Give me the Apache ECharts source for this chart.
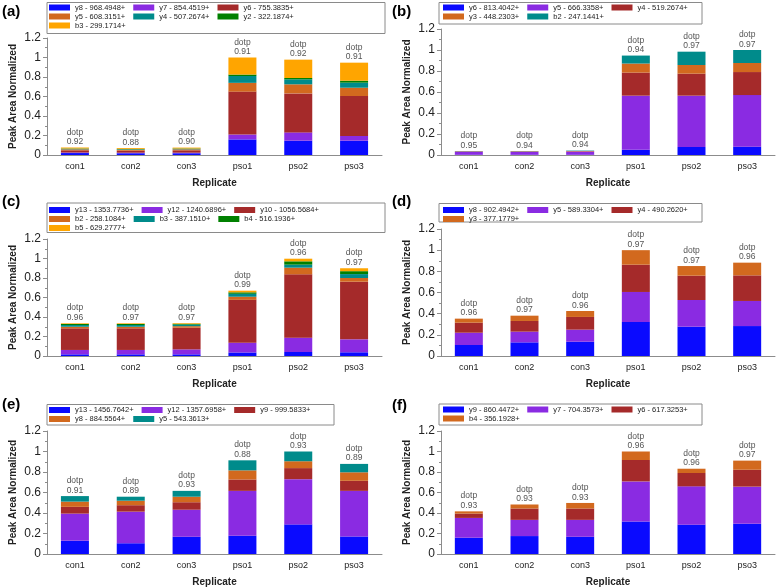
<!DOCTYPE html>
<html><head><meta charset="utf-8">
<script src="https://cdn.jsdelivr.net/npm/echarts@6/dist/echarts.min.js"></script>
<style>html,body{margin:0;padding:0;background:#fff}#c{width:778px;height:588px}</style>
</head><body><div id="c"></div>
<script>
const categories = ['con1','con2','con3','pso1','pso2','pso3'];
const yTicks = [0, 0.2, 0.4, 0.6, 0.8, 1, 1.2];
const palette = ['#0a0aff','#8a2be2','#a52a2a','#d2691e','#008b8b','#008000','#ffa500'];

// Panel (a)
const aNames = ['y8 - 968.4948+','y7 - 854.4519+','y6 - 755.3835+','y5 - 608.3151+','y4 - 507.2674+','y2 - 322.1874+','b3 - 299.1714+'];
const a_y8 = [0.020, 0.018, 0.018, 0.160, 0.147, 0.147];
const a_y7 = [0.006, 0.006, 0.006, 0.050, 0.085, 0.048];
const a_y6 = [0.022, 0.020, 0.024, 0.440, 0.400, 0.410];
const a_y5 = [0.010, 0.010, 0.010, 0.090, 0.093, 0.085];
const a_y4 = [0.005, 0.005, 0.005, 0.070, 0.051, 0.052];
const a_y2 = [0.004, 0.004, 0.004, 0.015, 0.014, 0.020];
const a_b3 = [0.010, 0.009, 0.009, 0.175, 0.188, 0.185];
const aDotp = ['0.92','0.88','0.90','0.91','0.92','0.91'];

// Panel (b)
const bNames = ['y6 - 813.4042+','y5 - 666.3358+','y4 - 519.2674+','y3 - 448.2303+','b2 - 247.1441+'];
const b_y6 = [0.002, 0.002, 0.002, 0.050, 0.076, 0.079];
const b_y5 = [0.028, 0.027, 0.030, 0.515, 0.489, 0.492];
const b_y4 = [0.004, 0.004, 0.004, 0.220, 0.210, 0.219];
const b_y3 = [0.001, 0.002, 0.002, 0.086, 0.082, 0.086];
const b_b2 = [0.002, 0.002, 0.004, 0.076, 0.127, 0.124];
const bDotp = ['0.95','0.94','0.94','0.94','0.97','0.97'];

// Panel (c)
const cNames = ['y13 - 1353.7736+','y12 - 1240.6896+','y10 - 1056.5684+','b2 - 258.1084+','b3 - 387.1510+','b4 - 516.1936+','b5 - 629.2777+'];
const c_y13 = [0.017, 0.017, 0.017, 0.036, 0.041, 0.038];
const c_y12 = [0.045, 0.045, 0.051, 0.100, 0.147, 0.133];
const c_y10 = [0.222, 0.222, 0.222, 0.440, 0.650, 0.591];
const c_b2 = [0.016, 0.016, 0.016, 0.032, 0.068, 0.038];
const c_b3 = [0.018, 0.018, 0.016, 0.030, 0.031, 0.040];
const c_b4 = [0.010, 0.010, 0.008, 0.015, 0.034, 0.030];
const c_b5 = [0.007, 0.007, 0.007, 0.017, 0.027, 0.030];
const cDotp = ['0.96','0.97','0.97','0.99','0.96','0.97'];

// Panel (d)
const dNames = ['y8 - 902.4942+','y5 - 589.3304+','y4 - 490.2620+','y3 - 377.1779+'];
const d_y8 = [0.104, 0.129, 0.135, 0.321, 0.277, 0.283];
const d_y5 = [0.116, 0.101, 0.114, 0.284, 0.252, 0.237];
const d_y4 = [0.095, 0.101, 0.120, 0.258, 0.230, 0.242];
const d_y3 = [0.038, 0.050, 0.056, 0.137, 0.091, 0.120];
const dDotp = ['0.96','0.97','0.96','0.97','0.97','0.96'];

// Panel (e)
const eNames = ['y13 - 1456.7642+','y12 - 1357.6958+','y9 - 999.5833+','y8 - 884.5564+','y5 - 543.3613+'];
const e_y13 = [0.130, 0.105, 0.168, 0.178, 0.289, 0.171];
const e_y12 = [0.264, 0.308, 0.264, 0.438, 0.441, 0.445];
const e_y9 = [0.066, 0.063, 0.073, 0.111, 0.108, 0.098];
const e_y8 = [0.051, 0.044, 0.054, 0.089, 0.067, 0.083];
const e_y5 = [0.054, 0.039, 0.057, 0.098, 0.095, 0.082];
const eDotp = ['0.91','0.89','0.93','0.88','0.93','0.89'];

// Panel (f)
const fNames = ['y9 - 860.4472+','y7 - 704.3573+','y6 - 617.3253+','b4 - 356.1928+'];
const f_y9 = [0.159, 0.175, 0.168, 0.317, 0.286, 0.295];
const f_y7 = [0.193, 0.158, 0.165, 0.391, 0.374, 0.362];
const f_y6 = [0.042, 0.111, 0.111, 0.209, 0.130, 0.165];
const f_b4 = [0.022, 0.039, 0.054, 0.083, 0.042, 0.089];
const fDotp = ['0.93','0.93','0.93','0.96','0.96','0.97'];

const panels = [
  {tag:'(a)', names:aNames, vals:[a_y8,a_y7,a_y6,a_y5,a_y4,a_y2,a_b3], dotp:aDotp,
   grid:{left:47,top:38,width:335,height:117}, title:{x:2,y:12},
   legend:{left:49,top:3}, box:{x:47,y:2.5,w:338,h:31}},
  {tag:'(b)', names:bNames, vals:[b_y6,b_y5,b_y4,b_y3,b_b2], dotp:bDotp,
   grid:{left:441,top:29,width:334,height:126}, title:{x:392,y:12},
   legend:{left:443,top:3}, box:{x:439,y:2.5,w:263,h:21.5}},
  {tag:'(c)', names:cNames, vals:[c_y13,c_y12,c_y10,c_b2,c_b3,c_b4,c_b5], dotp:cDotp,
   grid:{left:47,top:239,width:335,height:117}, title:{x:2,y:202},
   legend:{left:49,top:205.5}, box:{x:47,y:203,w:338,h:29.5}},
  {tag:'(d)', names:dNames, vals:[d_y8,d_y5,d_y4,d_y3], dotp:dDotp,
   grid:{left:441,top:229,width:334,height:127}, title:{x:392,y:202},
   legend:{left:443,top:205.5}, box:{x:439,y:203.5,w:263,h:18.5}},
  {tag:'(e)', names:eNames, vals:[e_y13,e_y12,e_y9,e_y8,e_y5], dotp:eDotp,
   grid:{left:47,top:431,width:335,height:126}, title:{x:2,y:405},
   legend:{left:49,top:405.5}, box:{x:47,y:404.5,w:287,h:20.5}},
  {tag:'(f)', names:fNames, vals:[f_y9,f_y7,f_y6,f_b4], dotp:fDotp,
   grid:{left:441,top:431,width:334,height:126}, title:{x:392,y:406},
   legend:{left:443,top:405}, box:{x:439,y:404,w:263,h:21}}
];

const FONT = 'Liberation Sans, Arial, sans-serif';
const axisGray = '#8c8c8c';
const grids = [], xAxes = [], yAxes = [], series = [], legends = [], graphics = [];

panels.forEach((p, i) => {
  grids.push(Object.assign({containLabel:false}, p.grid));
  xAxes.push({
    type:'category', gridIndex:i, data:categories,
    name:'Replicate', nameLocation:'middle', nameGap:23,
    nameTextStyle:{fontFamily:FONT, fontWeight:'bold', fontSize:10, color:'#222'},
    axisLine:{lineStyle:{color:axisGray}},
    axisTick:{alignWithLabel:true, length:4, lineStyle:{color:axisGray}},
    axisLabel:{fontFamily:FONT, fontSize:9, color:'#222', margin:7},
    splitLine:{show:false}
  });
  yAxes.push({
    type:'value', gridIndex:i, min:yTicks[0], max:yTicks[yTicks.length-1], interval:0.2,
    name:'Peak Area Normalized', nameLocation:'middle', nameGap:29,
    nameTextStyle:{fontFamily:FONT, fontWeight:'bold', fontSize:10, color:'#222'},
    axisLine:{show:true, lineStyle:{color:axisGray}},
    axisTick:{show:true, length:4, lineStyle:{color:axisGray}},
    minorTick:{show:true, splitNumber:2, length:2, lineStyle:{color:axisGray}},
    axisLabel:{fontFamily:FONT, fontSize:12, color:'#222', margin:6},
    splitLine:{show:false}
  });
  p.names.forEach((nm, k) => {
    const isTop = k === p.names.length - 1;
    series.push({
      type:'bar', name:nm, stack:'s'+i, xAxisIndex:i, yAxisIndex:i,
      data:p.vals[k], barWidth:28,
      itemStyle:{color:palette[k]},
      emphasis:{disabled:true},
      label: isTop ? {
        show:true, position:'top', distance:1,
        formatter:(pr)=>'dotp\n'+p.dotp[pr.dataIndex],
        fontFamily:FONT, fontSize:8.5, lineHeight:9.5, color:'#555', align:'center'
      } : {show:false}
    });
  });
  legends.push({
    data:p.names, left:p.legend.left, top:p.legend.top, width:300,
    orient:'horizontal', padding:0, itemGap:0, itemWidth:21, itemHeight:6,
    icon:'rect', selectedMode:false,
    textStyle:{fontFamily:FONT, fontSize:7.5, lineHeight:9, color:'#222', padding:[0,8,0,0]}
  });
  graphics.push({
    type:'rect', shape:{x:p.box.x, y:p.box.y, width:p.box.w, height:p.box.h},
    style:{fill:null, stroke:'#8a8a8a', lineWidth:1}, silent:true
  });
  graphics.push({
    type:'text', x:p.title.x, y:p.title.y,
    style:{text:p.tag, fontFamily:FONT, fontWeight:'bold', fontSize:15, fill:'#000', textVerticalAlign:'middle'},
    silent:true
  });
});

const chart = echarts.init(document.getElementById('c'), null, {renderer:'canvas'});
chart.setOption({
  animation:false,
  backgroundColor:'#fff',
  grid:grids, xAxis:xAxes, yAxis:yAxes, series:series, legend:legends,
  graphic:{elements:graphics}
});
</script></body></html>
